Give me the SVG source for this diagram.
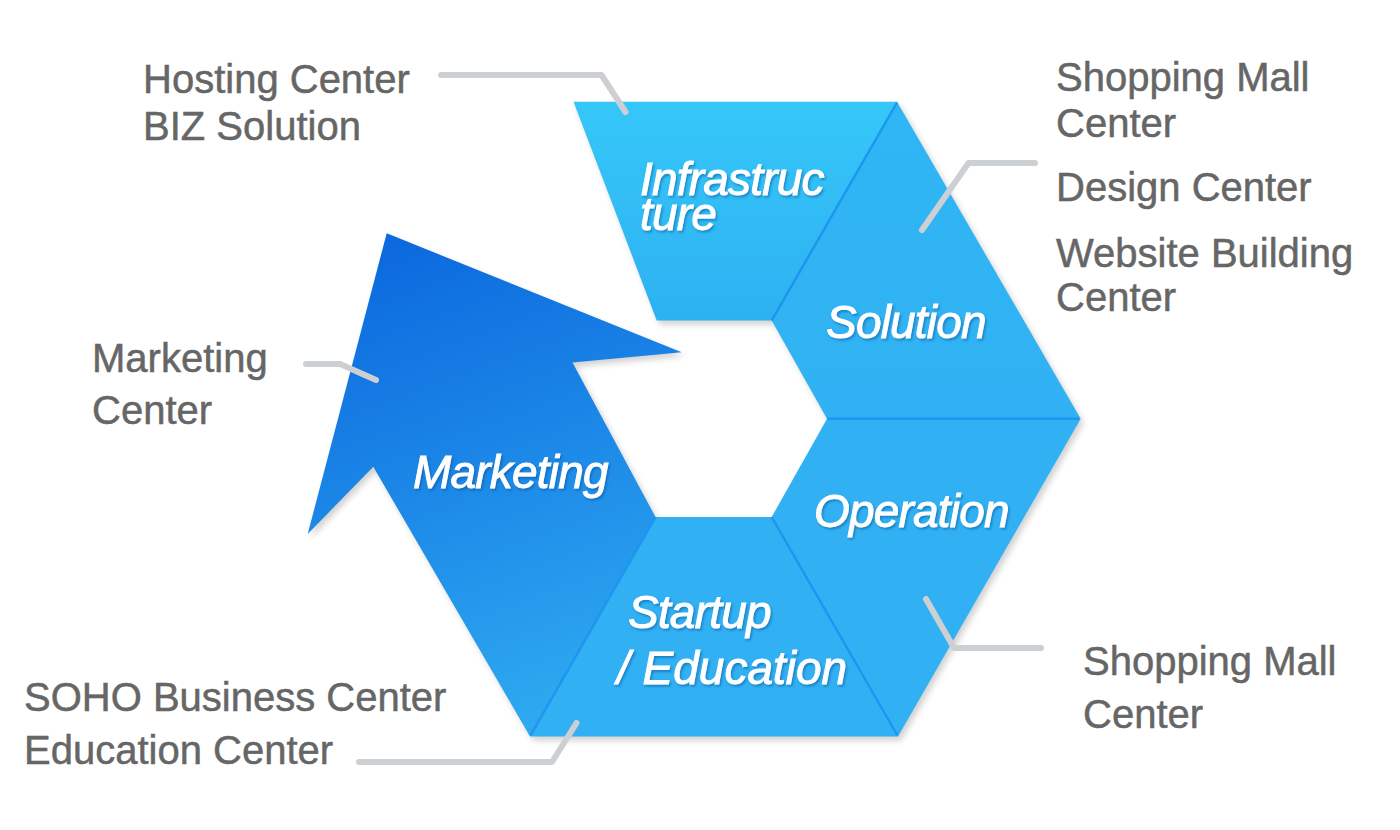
<svg xmlns="http://www.w3.org/2000/svg" xmlns:xlink="http://www.w3.org/1999/xlink" width="1400" height="830" viewBox="0 0 1400 830">
<style>
.lbl{font-family:"Liberation Sans",Arial,sans-serif;font-size:40px;fill:#666666;stroke:#666666;stroke-width:0.5}
.in{font-family:"Liberation Sans",Arial,sans-serif;font-size:46px;font-style:italic;fill:#ffffff;stroke:#ffffff;stroke-width:0.9;letter-spacing:-0.8px;filter:url(#ts)}
.sep{stroke:#1e96f0;stroke-width:2.5;fill:none}
.con{stroke:#cdd0d3;stroke-width:6;fill:none;stroke-linecap:round;stroke-linejoin:round}
</style>
<defs>
<linearGradient id="gMk" gradientUnits="userSpaceOnUse" x1="400" y1="240" x2="580" y2="730">
<stop offset="0" stop-color="#0c69de"/>
<stop offset="0.5" stop-color="#1d8ae8"/>
<stop offset="1" stop-color="#30acf1"/>
</linearGradient>
<linearGradient id="gIn" gradientUnits="userSpaceOnUse" x1="0" y1="102" x2="0" y2="320">
<stop offset="0" stop-color="#36c7f9"/>
<stop offset="1" stop-color="#2db1f1"/>
</linearGradient>
<linearGradient id="gSo" gradientUnits="userSpaceOnUse" x1="0" y1="102" x2="0" y2="419">
<stop offset="0" stop-color="#2fb6f4"/>
<stop offset="1" stop-color="#31b1f3"/>
</linearGradient>
<filter id="sh" x="-10%" y="-10%" width="130%" height="130%">
<feGaussianBlur stdDeviation="3"/>
</filter>
<filter id="ts" x="-10%" y="-20%" width="130%" height="150%">
<feDropShadow dx="1.5" dy="2" stdDeviation="1" flood-color="#0b4c8f" flood-opacity="0.45"/>
</filter>
</defs>
<rect width="1400" height="830" fill="#ffffff"/>

<g id="shadow" fill="#000000" opacity="0.18" filter="url(#sh)" transform="translate(3,4)">
<polygon points="386.7,233.3 681.7,352.3 572.5,362.5 655.5,517 530,736.5 373.3,466.7 307.7,534"/>
<polygon points="573.5,101.7 897,101.7 771.7,320.5 656.7,320.5"/>
<polygon points="897,101.7 1080.7,418.8 827,418.8 771.7,320.5"/>
<polygon points="827,418.8 1080.7,418.8 898,736.5 771.7,517"/>
<polygon points="655.5,517 771.7,517 898,736.5 530,736.5"/>
</g>

<g id="marketing">
<polygon points="386.7,233.3 681.7,352.3 572.5,362.5 655.5,517 530,736.5 373.3,466.7 307.7,534" fill="url(#gMk)"/>
<text class="in" x="413" y="488">Marketing</text>
</g>
<g id="infrastructure">
<polygon points="573.5,101.7 897,101.7 771.7,320.5 656.7,320.5" fill="url(#gIn)"/>
<text class="in" x="640" y="195">Infrastruc<tspan x="640" y="230">ture</tspan></text>
</g>
<g id="solution">
<polygon points="897,101.7 1080.7,418.8 827,418.8 771.7,320.5" fill="url(#gSo)"/>
<text class="in" x="826" y="338">Solution</text>
</g>
<g id="operation">
<polygon points="827,418.8 1080.7,418.8 898,736.5 771.7,517" fill="#31b1f3"/>
<text class="in" x="814" y="527">Operation</text>
</g>
<g id="startup">
<polygon points="655.5,517 771.7,517 898,736.5 530,736.5" fill="#31b0f3"/>
<text class="in" x="628" y="628">Startup</text>
<text class="in" x="617" y="684" style="letter-spacing:0px">/ Education</text>
</g>

<g id="separators">
<line class="sep" x1="897" y1="102.5" x2="771.7" y2="320.5"/>
<line class="sep" x1="827" y1="418.8" x2="1079.5" y2="418.8"/>
<line class="sep" x1="771.7" y1="517" x2="897.5" y2="735.5"/>
<line class="sep" x1="655.5" y1="517" x2="530.5" y2="735.5"/>
</g>

<g id="connectors">
<polyline class="con" points="441,75 601.5,75 625.5,112"/>
<polyline class="con" points="1035,163 968.5,163 922,230"/>
<polyline class="con" points="926,599 954,648 1041,648"/>
<polyline class="con" points="306,364 340,364 376,380"/>
<polyline class="con" points="359,762 552,762 576.5,723"/>
</g>

<g id="labels">
<text class="lbl" x="143" y="93">Hosting Center</text>
<text class="lbl" x="143" y="140">BIZ Solution</text>
<text class="lbl" x="1056" y="91">Shopping Mall</text>
<text class="lbl" x="1056" y="137">Center</text>
<text class="lbl" x="1056" y="201">Design Center</text>
<text class="lbl" x="1056" y="267">Website Building</text>
<text class="lbl" x="1056" y="311">Center</text>
<text class="lbl" x="92" y="372">Marketing</text>
<text class="lbl" x="92" y="424">Center</text>
<text class="lbl" x="24" y="711">SOHO Business Center</text>
<text class="lbl" x="24" y="764">Education Center</text>
<text class="lbl" x="1083" y="675">Shopping Mall</text>
<text class="lbl" x="1083" y="728">Center</text>
</g>
</svg>
